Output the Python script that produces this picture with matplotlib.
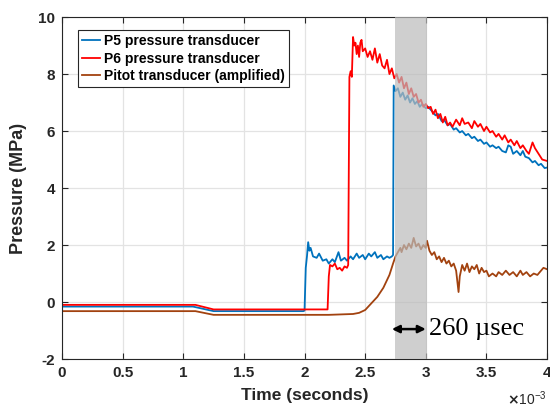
import numpy as np
import matplotlib
matplotlib.use('Agg')
from matplotlib import pyplot as plt
from matplotlib.ticker import FuncFormatter

# time in milliseconds, pressure in MPa
p5_t = [0, 1.08, 1.25, 1.99, 2.0, 2.01, 2.02, 2.03, 2.04, 2.05, 2.07, 2.1, 2.12, 2.15, 2.18, 2.2,
        2.23, 2.25, 2.28, 2.3, 2.33, 2.35, 2.38, 2.4, 2.43, 2.45, 2.48, 2.5, 2.53, 2.55, 2.58,
        2.6, 2.63, 2.65, 2.68, 2.7, 2.72, 2.73, 2.735, 2.75, 2.77, 2.79, 2.81, 2.83, 2.85, 2.87,
        2.89, 2.91, 2.93, 2.95, 2.97, 3.0, 3.02, 3.05, 3.08, 3.1, 3.13, 3.15, 3.18, 3.2, 3.23,
        3.25, 3.28, 3.3, 3.33, 3.35, 3.38, 3.4, 3.43, 3.45, 3.48, 3.5, 3.53, 3.55, 3.58, 3.6,
        3.63, 3.66, 3.68, 3.7, 3.72, 3.75, 3.78, 3.8, 3.82, 3.85, 3.88, 3.9, 3.93, 3.95, 3.98, 4.0]
p5_p = [-0.16, -0.16, -0.32, -0.32, -0.3, 1.2, 1.6, 2.1, 1.8, 1.9, 1.6, 1.55, 1.7, 1.45, 1.5, 1.35,
        1.5, 1.4, 1.75, 1.45, 1.55, 1.45, 1.6, 1.5, 1.7, 1.55, 1.65, 1.5, 1.7, 1.6, 1.75,
        1.55, 1.65, 1.5, 1.6, 1.55, 1.6, 1.65, 7.6, 7.4, 7.5, 7.2, 7.35, 7.1, 7.25, 7.0,
        7.15, 6.95, 7.05, 6.85, 6.95, 6.8, 6.85, 6.7, 6.55, 6.6, 6.35, 6.4, 6.2, 6.25, 6.05,
        6.1, 5.95, 6.0, 5.85, 5.9, 5.75, 5.8, 5.65, 5.7, 5.55, 5.6, 5.45, 5.5, 5.4, 5.45,
        5.3, 5.25, 5.5, 5.45, 5.2, 5.3, 5.15, 5.3, 5.1, 5.05, 4.9, 4.95, 4.8, 4.85, 4.7, 4.72]

p6_t = [0, 1.1, 1.25, 2.19, 2.2, 2.21, 2.23, 2.25, 2.27, 2.29, 2.31, 2.33, 2.35, 2.36, 2.37, 2.38,
        2.39, 2.4, 2.41, 2.42, 2.43, 2.44, 2.45, 2.46, 2.47, 2.48, 2.5, 2.52, 2.54, 2.56, 2.58,
        2.6, 2.62, 2.64, 2.66, 2.68, 2.7, 2.72, 2.74, 2.76, 2.78, 2.8, 2.82, 2.84, 2.86, 2.88,
        2.9, 2.92, 2.94, 2.96, 2.98, 3.0, 3.02, 3.04, 3.06, 3.08, 3.1, 3.12, 3.14, 3.16, 3.18,
        3.2, 3.22, 3.25, 3.28, 3.3, 3.32, 3.35, 3.38, 3.4, 3.43, 3.45, 3.48, 3.5, 3.53, 3.55,
        3.58, 3.6, 3.63, 3.65, 3.68, 3.7, 3.73, 3.75, 3.78, 3.8, 3.83, 3.85, 3.88, 3.9, 3.93,
        3.96, 4.0]
p6_p = [-0.1, -0.1, -0.26, -0.26, 0.9, 1.3, 1.25, 1.35, 1.15, 1.2, 1.1, 1.25, 1.2, 1.3, 7.9, 8.1,
        7.9, 9.3, 9.0, 9.1, 8.7, 9.0, 8.6, 9.1, 9.2, 8.8, 8.9, 8.6, 8.8, 8.5, 8.9,
        8.4, 8.7, 8.3, 8.2, 8.5, 8.0, 8.2, 7.85, 8.0, 7.7, 7.9, 7.5, 7.7, 7.3, 7.5,
        7.2, 7.3, 7.0, 7.1, 6.85, 6.95, 6.8, 6.85, 6.6, 6.75, 6.45, 6.6, 6.3, 6.5, 6.2,
        6.3, 6.15, 6.4, 6.2, 6.45, 6.25, 6.3, 6.1, 6.35, 6.15, 6.25, 6.0, 6.15, 5.95, 6.0,
        5.8, 5.9, 5.7, 5.85, 5.6, 5.7, 5.5, 5.65, 5.4, 5.5, 5.3, 5.2, 5.6, 5.4, 5.2,
        5.0, 4.95]

pitot_t = [0, 1.1, 1.25, 2.0, 2.2, 2.4, 2.45, 2.5, 2.55, 2.6, 2.65, 2.7, 2.73, 2.75, 2.77, 2.79,
           2.8, 2.82, 2.84, 2.86, 2.88, 2.9, 2.92, 2.94, 2.96, 2.98, 3.0, 3.01, 3.03, 3.05, 3.07,
           3.09, 3.11, 3.13, 3.15, 3.17, 3.19, 3.21, 3.23, 3.25, 3.27, 3.28, 3.3, 3.32, 3.34,
           3.36, 3.38, 3.4, 3.42, 3.44, 3.46, 3.48, 3.5, 3.52, 3.55, 3.58, 3.6, 3.63, 3.66,
           3.69, 3.72, 3.75, 3.78, 3.8, 3.83, 3.86, 3.89, 3.92, 3.95, 3.97, 4.0]
pitot_p = [-0.32, -0.32, -0.45, -0.45, -0.45, -0.42, -0.38, -0.28, -0.05, 0.18, 0.5, 0.95, 1.35,
           1.6, 1.75, 1.9, 1.75, 2.0, 1.85, 2.05, 1.9, 2.25, 1.95, 2.05, 1.85, 2.0, 1.9, 2.15,
           1.8, 1.65, 1.75, 1.5, 1.6, 1.4, 1.55, 1.35, 1.45, 1.25, 1.35, 1.1, 0.35, 0.9, 1.3,
           1.1, 1.35, 1.05, 1.25, 1.15, 1.3, 1.0, 1.2, 1.05, 1.1, 0.9, 1.0, 0.9, 1.05, 0.95,
           1.1, 0.95, 1.05, 0.9, 1.1, 0.95, 1.05, 0.9, 1.0, 0.95, 1.1, 1.2, 1.15]

window_ms = (2.75, 3.01)
arrow_ms = (2.72, 3.0)
arrow_p = -0.95

plt.rcParams['font.family'] = ['Liberation Sans', 'DejaVu Sans']
plt.rcParams['font.weight'] = 'bold'
plt.rcParams['axes.unicode_minus'] = False

fig = plt.figure(figsize=(5.5, 4.11), dpi=100)
ax = fig.add_axes([0.1127, 0.1265, 0.882, 0.832])

ms = 1e-3
ax.plot(np.array(p5_t) * ms, p5_p, color='#0072BD', lw=1.3, label='P5 pressure transducer')
ax.plot(np.array(p6_t) * ms, p6_p, color='#FF0000', lw=1.3, label='P6 pressure transducer')
ax.plot(np.array(pitot_t) * ms, pitot_p, color='#A2420F', lw=1.3, label='Pitot transducer (amplified)')

ax.axvspan(window_ms[0] * ms, window_ms[1] * ms, color='#bbbbbb', alpha=0.7, lw=0, zorder=5)

ax.annotate('', xy=(arrow_ms[0] * ms, arrow_p), xytext=(arrow_ms[1] * ms, arrow_p),
            arrowprops=dict(arrowstyle='<|-|>', color='black', lw=1.8,
                            mutation_scale=11, shrinkA=0, shrinkB=0), zorder=6)
ax.text(3.03 * ms, arrow_p, '260 \u00b5sec', family=['Liberation Serif'], fontweight='normal',
        fontsize=19, va='center', ha='left', zorder=6)

ax.set_xlim(0, 4 * ms)
ax.set_ylim(-2, 10)
ax.set_xticks(np.arange(0, 4.01, 0.5) * ms)
ax.set_yticks(np.arange(-2, 10.1, 2))
ax.xaxis.set_major_formatter(FuncFormatter(lambda v, pos: f'{v / ms:g}'))
# MATLAB-style exponent label under the right end of the axis
ax.text(1.0, -0.134, r'$\times\mathregular{10^{-3}}$', transform=ax.transAxes, ha='right',
        va='baseline', fontsize=10, fontweight='normal', color='#262626')

ax.grid(True, color='#e3e3e3', lw=0.9)
ax.set_axisbelow(True)
ax.tick_params(direction='in', length=4, width=0.8, labelsize=11, colors='#262626',
               top=True, right=True, pad=5)
for s in ax.spines.values():
    s.set_color('#262626')
    s.set_linewidth(0.8)

ax.set_xlabel('Time (seconds)', fontsize=12.5, fontweight='bold', color='#262626', labelpad=6)
ax.set_ylabel('Pressure (MPa)', fontsize=13, fontweight='bold', color='#262626', labelpad=8)

leg = ax.legend(loc='upper left', bbox_to_anchor=(0.033, 0.962), fontsize=10, handlelength=1.3,
                handletextpad=0.3, borderpad=0.3, labelspacing=0.25, fancybox=False,
                framealpha=1, edgecolor='#262626', borderaxespad=0)
leg.get_frame().set_linewidth(0.8)
for t in leg.get_texts():
    t.set_fontweight('bold')

fig.savefig('out.png', dpi=100)
